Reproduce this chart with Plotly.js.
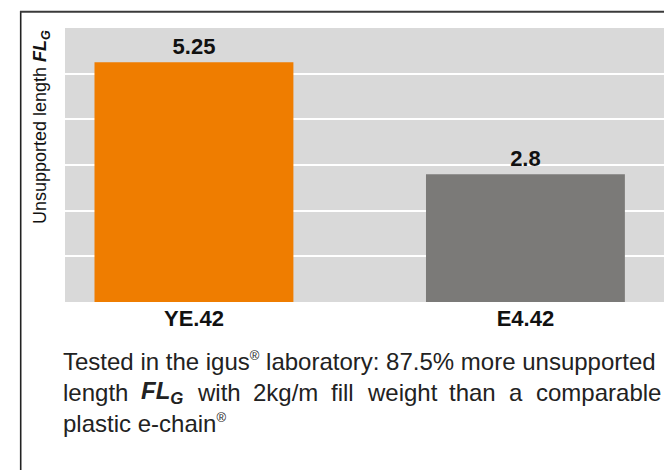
<!DOCTYPE html>
<html>
<head>
<meta charset="utf-8">
<script src="https://cdn.plot.ly/plotly-3.0.1.min.js"></script>
<style>html,body{margin:0;padding:0;background:#fff;}#chart{width:664px;height:470px;}</style>
</head>
<body>
<div id="chart"></div>
<script>
const categories = ["YE.42", "E4.42"];
const values = [5.25, 2.8];
const barColors = ["#ef7d00", "#7b7a78"];
const valueLabels = ["5.25", "2.8"];
const yTitle = "Unsupported length <b><i>FL</i></b><sub><b><i>G</i></b></sub>";
const REG = "<sup><span style='font-size:13px'>®</span></sup>";
const captionLine1 = "Tested in the igus" + REG + " laboratory: 87.5% more unsupported";
const captionLine2Words = ["length", "FL|G", "with", "2kg/m", "fill", "weight", "than", "a", "comparable"];
const captionLine3 = "plastic e-chain" + REG;

const W = 664, H = 470;
const L = 65, T = 28, B = 168;
const plotW = W - L, plotH = H - T - B;
const px2x = p => (p - L) / plotW;
const py2y = p => (H - B - p) / plotH;

const FONT = "Liberation Sans, Arial, sans-serif";
const CAP_SIZE = 24;
const CAP_COLOR = "#222";

// measure words for justified second line
const cv = document.createElement("canvas").getContext("2d");
function wordWidth(w) {
  if (w.indexOf("|") >= 0) {
    const parts = w.split("|");
    cv.font = "italic bold " + CAP_SIZE + "px 'Liberation Sans'";
    const a = cv.measureText(parts[0]).width;
    cv.font = "italic bold " + (CAP_SIZE * 0.7) + "px 'Liberation Sans'";
    return a + cv.measureText(parts[1]).width;
  }
  cv.font = CAP_SIZE + "px 'Liberation Sans'";
  return cv.measureText(w).width;
}
function wordHtml(w) {
  if (w.indexOf("|") >= 0) {
    const parts = w.split("|");
    return "<b><i>" + parts[0] + "</i></b><sub><b><i>" + parts[1] + "</i></b></sub>";
  }
  return w;
}
const lineLeft = 62, lineRight = 660;
const widths = captionLine2Words.map(wordWidth);
const totalW = widths.reduce((s, v) => s + v, 0);
const gap = (lineRight - lineLeft - totalW) / (captionLine2Words.length - 1);
let cursor = lineLeft;
const line2Annotations = captionLine2Words.map((w, i) => {
  const a = {
    xref: "paper", yref: "paper", x: px2x(cursor), y: py2y(392),
    text: wordHtml(w), showarrow: false, xanchor: "left", yanchor: "middle",
    borderpad: 0,
    font: {family: FONT, size: CAP_SIZE, color: CAP_COLOR}
  };
  cursor += widths[i] + gap;
  return a;
});

const trace = {
  type: "bar",
  x: categories,
  y: values,
  width: 0.6,
  marker: {color: barColors, line: {width: 0}},
  text: valueLabels.map(t => "<b>" + t + "</b>"),
  textposition: "outside",
  textfont: {family: FONT, size: 22, color: "#111"},
  cliponaxis: false,
  hoverinfo: "skip"
};

const annotations = [
  {
    xref: "paper", yref: "paper", x: px2x(42), y: py2y(127),
    text: yTitle, textangle: -90, showarrow: false,
    xanchor: "center", yanchor: "middle",
    font: {family: FONT, size: 18, color: "#111"}
  },
  {
    xref: "paper", yref: "paper", x: px2x(lineLeft), y: py2y(361),
    text: captionLine1, showarrow: false, xanchor: "left", yanchor: "middle", borderpad: 0,
    font: {family: FONT, size: CAP_SIZE, color: CAP_COLOR}
  },
  {
    xref: "paper", yref: "paper", x: px2x(lineLeft), y: py2y(423),
    text: captionLine3, showarrow: false, xanchor: "left", yanchor: "middle", borderpad: 0,
    font: {family: FONT, size: CAP_SIZE, color: CAP_COLOR}
  }
].concat(line2Annotations);

const shapes = [
  {type: "line", xref: "paper", yref: "paper", x0: px2x(20.7), x1: px2x(20.7), y0: py2y(11), y1: py2y(472), line: {color: "#222", width: 1.6}},
  {type: "line", xref: "paper", yref: "paper", x0: px2x(20), x1: px2x(666), y0: py2y(11.7), y1: py2y(11.7), line: {color: "#3a3a3a", width: 2}}
];

const layout = {
  width: W, height: H,
  margin: {l: L, r: 0, t: T, b: B, pad: 0},
  paper_bgcolor: "#ffffff",
  plot_bgcolor: "#d9d9d9",
  showlegend: false,
  hovermode: false,
  xaxis: {
    type: "category",
    range: [-0.389, 1.418],
    showgrid: false, zeroline: false, showline: false,
    ticks: "", ticklabelstandoff: 1,
    tickfont: {family: FONT, size: 22, color: "#111", weight: "bold"},
    fixedrange: true
  },
  yaxis: {
    range: [0, 6],
    dtick: 1,
    showgrid: true, gridcolor: "#ffffff", gridwidth: 2,
    zeroline: false, showline: false, showticklabels: false, ticks: "",
    fixedrange: true
  },
  annotations: annotations,
  shapes: shapes
};

Plotly.newPlot("chart", [trace], layout, {displayModeBar: false, staticPlot: true});
</script>
</body>
</html>
